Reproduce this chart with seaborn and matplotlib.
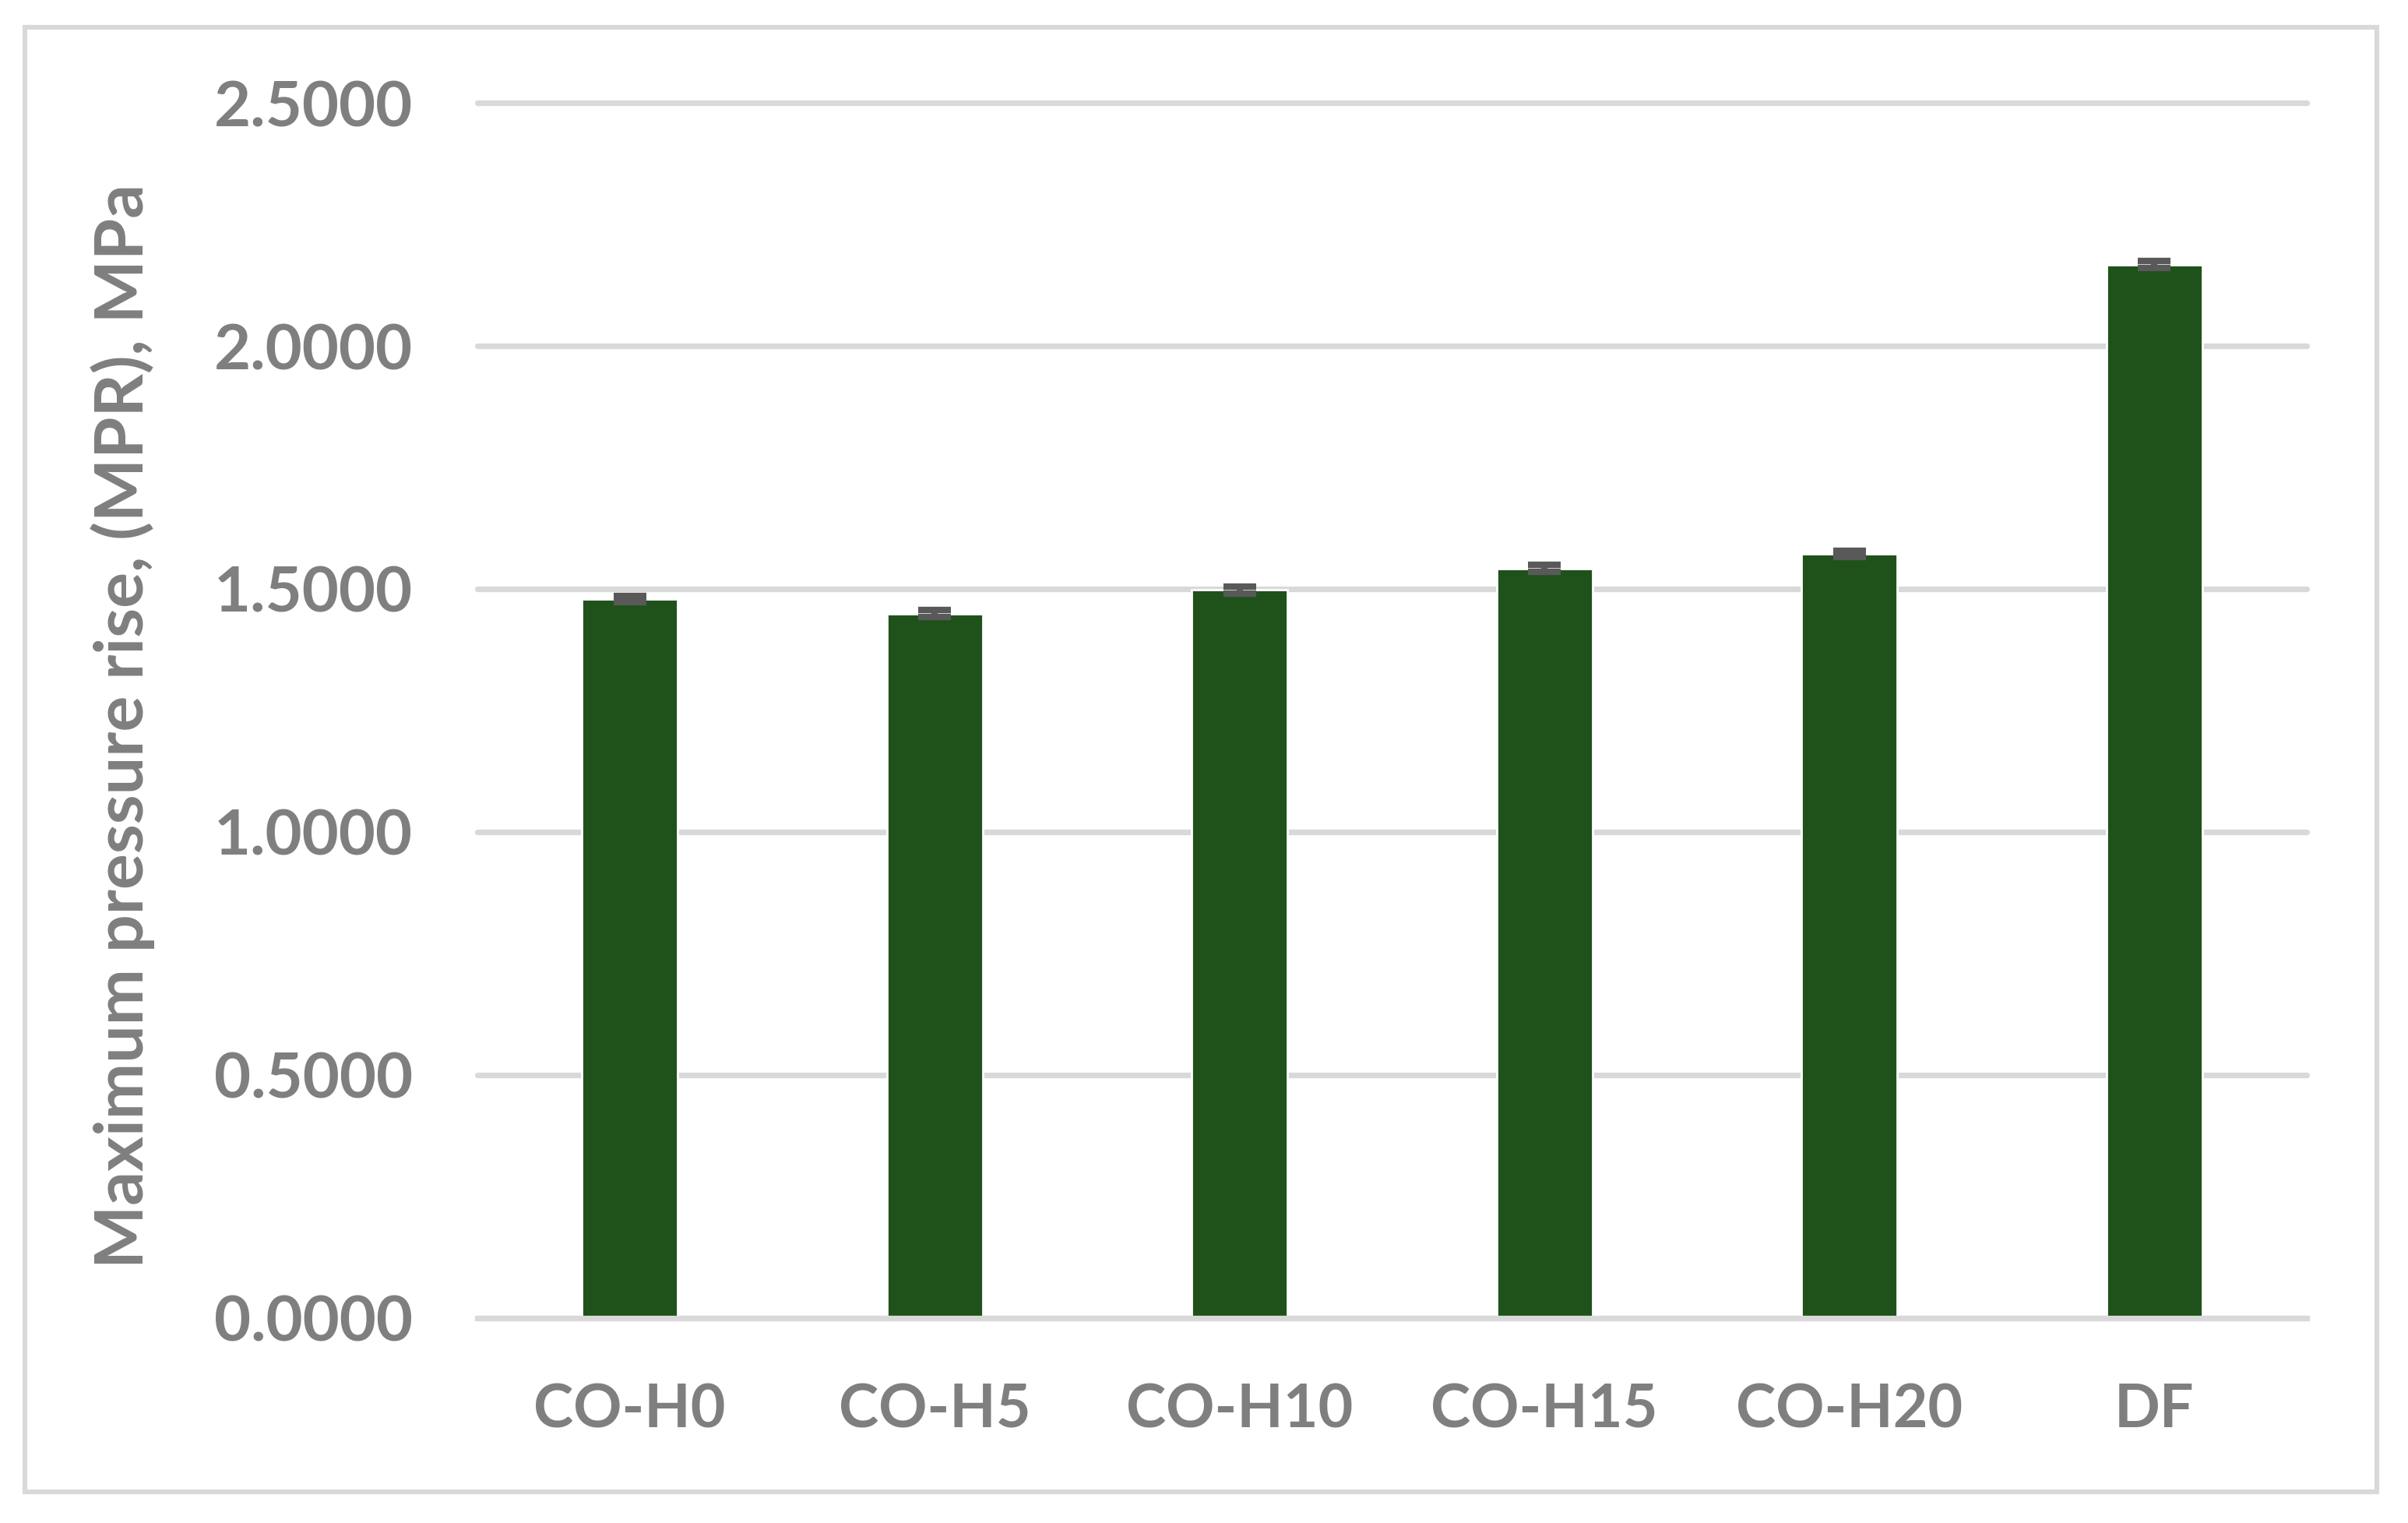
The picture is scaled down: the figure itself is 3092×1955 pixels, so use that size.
import matplotlib
matplotlib.use("Agg")
import matplotlib.pyplot as plt
import seaborn as sns
import numpy as np
import pandas as pd
from matplotlib.patches import Rectangle

categories = ["CO-H0", "CO-H5", "CO-H10", "CO-H15", "CO-H20", "DF"]
mpr_values = [1.479, 1.449, 1.498, 1.542, 1.572, 2.167]
mpr_errors = [0.007, 0.007, 0.007, 0.007, 0.007, 0.007]
y_ticks = [0.0, 0.5, 1.0, 1.5, 2.0, 2.5]
y_tick_labels = ["0.0000", "0.5000", "1.0000", "1.5000", "2.0000", "2.5000"]
y_label = "Maximum pressure rise, (MPR), MPa"

sns.set_theme(style="white")
plt.rcParams["font.family"] = ["Lato", "DejaVu Sans"]

TXT = "#7f7f7f"
GRID = "#d9d9d9"
BAR = "#1f521a"
ERR = "#595959"
WEIGHT = "bold"

df = pd.DataFrame({"cat": categories, "val": mpr_values})

fig = plt.figure(figsize=(15.46, 9.775), dpi=200)
ax = fig.add_axes([0.19825, 0.13453, 0.7597, 0.79795])

sns.barplot(data=df, x="cat", y="val", order=categories, color=BAR,
            saturation=1, width=0.315, errorbar=None, ax=ax, zorder=3)
ax.errorbar(np.arange(len(categories)), mpr_values, yerr=mpr_errors,
            fmt="none", ecolor=ERR, elinewidth=3, capsize=7.5, capthick=3,
            zorder=4)

ax.set_xlim(-0.5, len(categories) - 0.5)
ax.set_ylim(0, 2.5)
ax.set_yticks(y_ticks)
ax.set_yticklabels(y_tick_labels)
ax.yaxis.grid(True, color=GRID, linewidth=2.6, zorder=0)
ax.set_axisbelow(True)
for gl in ax.get_ygridlines():
    gl.set_clip_on(False)
for s in ["top", "right", "left"]:
    ax.spines[s].set_visible(False)
ax.spines["bottom"].set_color(GRID)
ax.spines["bottom"].set_linewidth(2.6)
ax.spines["bottom"].set_zorder(5)

ax.tick_params(axis="both", length=0, labelcolor=TXT)
ax.tick_params(axis="y", pad=30, labelsize=29.3)
ax.tick_params(axis="x", pad=30, labelsize=27.8)
for lab in ax.get_xticklabels() + ax.get_yticklabels():
    lab.set_fontweight(WEIGHT)

ax.set_xlabel("")
ax.set_ylabel(y_label, fontsize=31, fontweight=WEIGHT, color=TXT, va="center")
ax.yaxis.set_label_coords(-0.1937, 0.487)

fig.patches.append(Rectangle((32 / 3092, 1 - 1915 / 1955), (3052 - 32) / 3092,
                             (1915 - 35) / 1955, transform=fig.transFigure,
                             fill=False, edgecolor=GRID, linewidth=2.2, zorder=0))

fig.savefig("out.png", dpi=200, facecolor="white")
